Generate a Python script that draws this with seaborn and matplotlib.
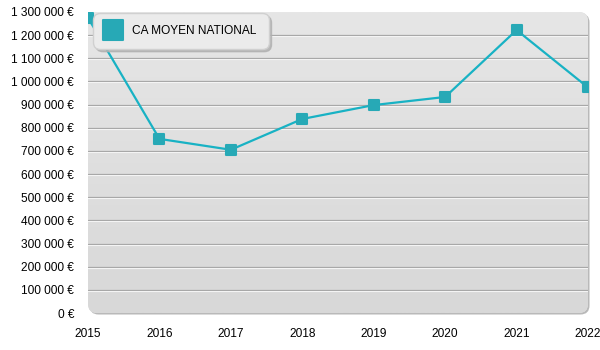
import numpy as np
import pandas as pd
import matplotlib
matplotlib.use("Agg")
import matplotlib.pyplot as plt
import matplotlib.transforms as mtransforms
from matplotlib.patches import FancyBboxPatch
from matplotlib.markers import MarkerStyle
from matplotlib.lines import Line2D
import seaborn as sns

years = [2015, 2016, 2017, 2018, 2019, 2020, 2021, 2022]
ca_moyen = [1275000, 752000, 705000, 838000, 898000, 933000, 1222000, 974000]
series_name = "CA MOYEN NATIONAL"
y_ticks = list(range(0, 1300001, 100000))

def fmt_eur(v):
    return "{:,}".format(int(v)).replace(",", " ") + " €"

df = pd.DataFrame({"Année": years, "CA": ca_moyen})

sns.set_theme(style="white")
plt.rcParams["font.family"] = ["Liberation Sans", "DejaVu Sans"]
plt.rcParams["text.color"] = "black"

fig = plt.figure(figsize=(6, 3.5), dpi=100)
W, H = 600, 350
left, right, top, bottom = 88, 588, 12, 313
ax = fig.add_axes([left / W, 1 - bottom / H, (right - left) / W, (bottom - top) / H])
ax.set_facecolor("none")
for s in ax.spines.values():
    s.set_visible(False)

# rounded plot background with shadow and gradient
r = 9
aspect = (right - left) / (bottom - top)
shadow_tr = ax.transAxes + mtransforms.ScaledTranslation(1.5 / 100, -1.5 / 100, fig.dpi_scale_trans)
shadow = FancyBboxPatch((0, 0), 1, 1, boxstyle=f"round,pad=0,rounding_size={r/(right-left)}",
                        mutation_aspect=aspect, transform=shadow_tr, facecolor="#b9b9b9",
                        edgecolor="none", zorder=0, clip_on=False)
ax.add_patch(shadow)
bg = FancyBboxPatch((0, 0), 1, 1, boxstyle=f"round,pad=0,rounding_size={r/(right-left)}",
                    mutation_aspect=aspect, transform=ax.transAxes, facecolor="#e0e0e0",
                    edgecolor="none", zorder=0.5, clip_on=False)
ax.add_patch(bg)
grad = np.linspace(0, 1, 256).reshape(-1, 1)
img = ax.imshow(grad, extent=[0, 1, 0, 1], transform=ax.transAxes, aspect="auto",
                cmap=matplotlib.colors.LinearSegmentedColormap.from_list("g", ["#d8d8d8", "#e6e6e6"]),
                origin="lower", zorder=0.6)
img.set_clip_path(bg)

# gridlines with white highlight
white_tr = ax.transData + mtransforms.ScaledTranslation(0, -1.0 / 100, fig.dpi_scale_trans)
for v in y_ticks[1:-1]:
    ax.plot([0, 1], [v, v], color="#ffffff", lw=0.8, transform=mtransforms.blended_transform_factory(ax.transAxes, white_tr), zorder=1)
    ax.axhline(v, color="#a8a8a8", lw=0.9, zorder=1.1)

marker = MarkerStyle("s", joinstyle="round")
sns.lineplot(data=df, x="Année", y="CA", ax=ax, color="#18b2c4", lw=1.6,
             marker=marker, markersize=7.5, markerfacecolor="#27a9b6",
             markeredgecolor="#27a9b6", markeredgewidth=1.5, zorder=3, legend=False)

ax.set_xlim(years[0], years[-1])
ax.set_ylim(y_ticks[0], y_ticks[-1])
ax.set_xticks(years)
ax.set_xticklabels([str(y) for y in years])
ax.set_yticks(y_ticks)
ax.set_yticklabels([fmt_eur(v) for v in y_ticks])
ax.tick_params(axis="both", length=0, labelsize=8.6, colors="black")
ax.tick_params(axis="y", pad=10)
ax.tick_params(axis="x", pad=11)
ax.set_xlabel("")
ax.set_ylabel("")

handle = Line2D([], [], linestyle="none", marker=MarkerStyle("s", joinstyle="round"),
                markersize=14.0, markerfacecolor="#27a9b6", markeredgecolor="#27a9b6",
                markeredgewidth=1.5)
leg = ax.legend([handle], [series_name], loc="upper left",
                bbox_to_anchor=((93 - left) / (right - left), 1 - (13 - top) / (bottom - top)),
                frameon=True, fancybox=True, fontsize=8.6, handlelength=1.4,
                handletextpad=0.9, borderpad=1.0, borderaxespad=0,
                labelcolor="black",
                shadow={"color": "#b0b0b0", "alpha": 0.8})
frame = leg.get_frame()
frame.set_facecolor("#ebebeb")
frame.set_edgecolor("#d0d0d0")
frame.set_alpha(1)
frame.set_boxstyle("round,pad=0,rounding_size=0.6")
leg.set_zorder(5)

fig.savefig("out.png", dpi=100, facecolor="white")
